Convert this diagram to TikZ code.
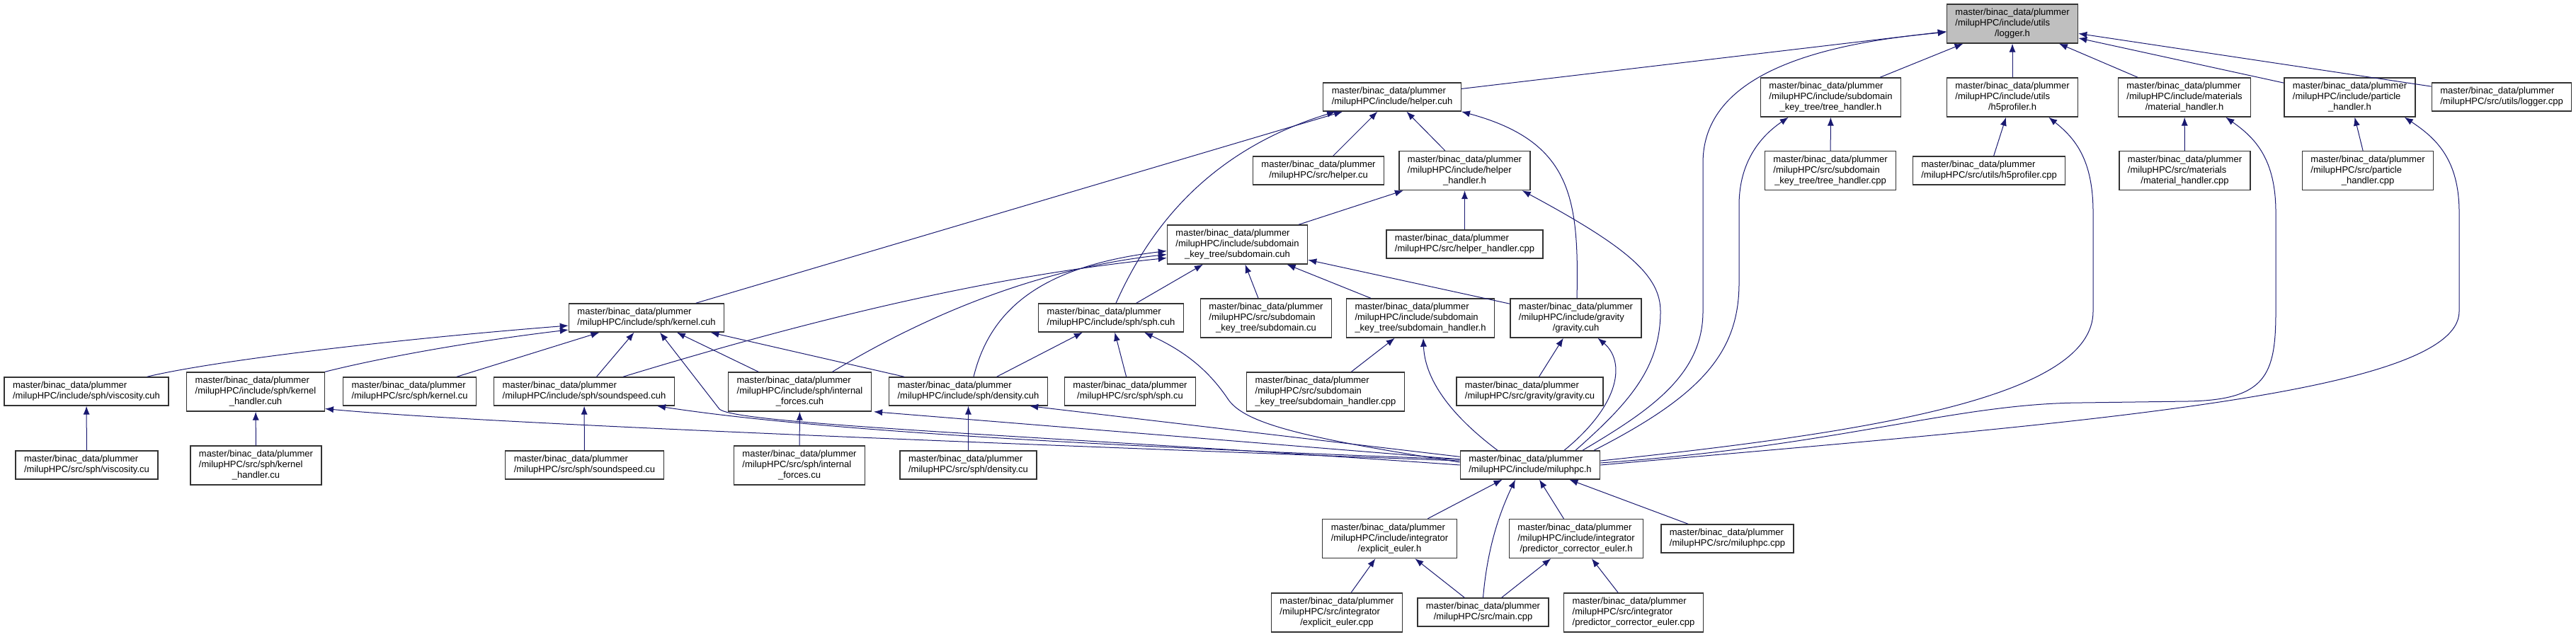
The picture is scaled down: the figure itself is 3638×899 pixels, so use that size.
\documentclass[tikz,border=0pt]{standalone}
\usepackage{fontspec}
\setmainfont{Liberation Sans}
\usetikzlibrary{arrows.meta,calc}
\definecolor{incedge}{RGB}{25,25,112}
\definecolor{rootgray}{RGB}{191,191,191}
\newcommand{\pathtwo}[1]{\begin{tabular}{@{}l@{}}master/binac\_data/plummer\\\multicolumn{1}{@{}c@{}}{#1}\end{tabular}}
\newcommand{\paththree}[2]{\begin{tabular}{@{}l@{}}master/binac\_data/plummer\\#1\\\multicolumn{1}{@{}c@{}}{#2}\end{tabular}}

\begin{document}
\begin{tikzpicture}[x=0.5pt,y=-0.5pt,
 file/.style={draw=black!80,fill=white,line width=0.7pt,inner xsep=6pt,inner ysep=2.5pt,font=\fontsize{6.5}{7.5}\selectfont},
 root/.style={file,fill=rootgray},
 dep/.style={-{Latex[length=6pt,width=4.6pt]},color=incedge,line width=0.5pt}]
\useasboundingbox (0,0) rectangle (3638,899);
\node[root] (logger) at (2842,33.5) {\paththree{/milupHPC/include/utils}{/logger.h}};
\node[file] (helpercuh) at (1966,137) {\pathtwo{/milupHPC/include/helper.cuh}};
\node[file] (treeh) at (2585.5,137.5) {\paththree{/milupHPC/include/subdomain}{\_key\_tree/tree\_handler.h}};
\node[file] (h5h) at (2842,137.5) {\paththree{/milupHPC/include/utils}{/h5profiler.h}};
\node[file] (math) at (3085,137.5) {\paththree{/milupHPC/include/materials}{/material\_handler.h}};
\node[file] (parth) at (3318.5,137.5) {\paththree{/milupHPC/include/particle}{\_handler.h}};
\node[file] (loggercpp) at (3533,137) {\pathtwo{/milupHPC/src/utils/logger.cpp}};
\node[file] (helpercu) at (1862,241) {\pathtwo{/milupHPC/src/helper.cu}};
\node[file] (helperhh) at (2068.5,241) {\paththree{/milupHPC/include/helper}{\_handler.h}};
\node[file] (treecpp) at (2585,241) {\paththree{/milupHPC/src/subdomain}{\_key\_tree/tree\_handler.cpp}};
\node[file] (h5cpp) at (2809,241) {\pathtwo{/milupHPC/src/utils/h5profiler.cpp}};
\node[file] (matcpp) at (3085.5,241) {\paththree{/milupHPC/src/materials}{/material\_handler.cpp}};
\node[file] (partcpp) at (3344,241) {\paththree{/milupHPC/src/particle}{\_handler.cpp}};
\node[file] (subcuh) at (1747.5,345.5) {\paththree{/milupHPC/include/subdomain}{\_key\_tree/subdomain.cuh}};
\node[file] (helperhcpp) at (2068.5,345) {\pathtwo{/milupHPC/src/helper\_handler.cpp}};
\node[file] (kernelcuh) at (913,449) {\pathtwo{/milupHPC/include/sph/kernel.cuh}};
\node[file] (sphcuh) at (1569,449) {\pathtwo{/milupHPC/include/sph/sph.cuh}};
\node[file] (subcu) at (1788,449.5) {\paththree{/milupHPC/src/subdomain}{\_key\_tree/subdomain.cu}};
\node[file] (subhh) at (2006,449.5) {\paththree{/milupHPC/include/subdomain}{\_key\_tree/subdomain\_handler.h}};
\node[file] (gravcuh) at (2225.5,449.5) {\paththree{/milupHPC/include/gravity}{/gravity.cuh}};
\node[file] (visccuh) at (122,553) {\pathtwo{/milupHPC/include/sph/viscosity.cuh}};
\node[file] (kernhcuh) at (361,553.5) {\paththree{/milupHPC/include/sph/kernel}{\_handler.cuh}};
\node[file] (kernelcu) at (578.5,553) {\pathtwo{/milupHPC/src/sph/kernel.cu}};
\node[file] (soundcuh) at (825,553) {\pathtwo{/milupHPC/include/sph/soundspeed.cuh}};
\node[file] (intfcuh) at (1129.5,553.5) {\paththree{/milupHPC/include/sph/internal}{\_forces.cuh}};
\node[file] (denscuh) at (1367.5,553) {\pathtwo{/milupHPC/include/sph/density.cuh}};
\node[file] (sphcu) at (1596,553) {\pathtwo{/milupHPC/src/sph/sph.cu}};
\node[file] (subhcpp) at (1872,553.5) {\paththree{/milupHPC/src/subdomain}{\_key\_tree/subdomain\_handler.cpp}};
\node[file] (gravcu) at (2160.5,553) {\pathtwo{/milupHPC/src/gravity/gravity.cu}};
\node[file] (visccu) at (122.5,657) {\pathtwo{/milupHPC/src/sph/viscosity.cu}};
\node[file] (kernhcu) at (361.5,657.5) {\paththree{/milupHPC/src/sph/kernel}{\_handler.cu}};
\node[file] (soundcu) at (825.5,657) {\pathtwo{/milupHPC/src/sph/soundspeed.cu}};
\node[file] (intfcu) at (1129,657.5) {\paththree{/milupHPC/src/sph/internal}{\_forces.cu}};
\node[file] (denscu) at (1367.5,657) {\pathtwo{/milupHPC/src/sph/density.cu}};
\node[file] (miluphpch) at (2161,657) {\pathtwo{/milupHPC/include/miluphpc.h}};
\node[file] (expeulh) at (1962.5,761) {\paththree{/milupHPC/include/integrator}{/explicit\_euler.h}};
\node[file] (pceulh) at (2226,761) {\paththree{/milupHPC/include/integrator}{/predictor\_corrector\_euler.h}};
\node[file] (miluphpccpp) at (2439.5,761) {\pathtwo{/milupHPC/src/miluphpc.cpp}};
\node[file] (expeulcpp) at (1888,865.5) {\paththree{/milupHPC/src/integrator}{/explicit\_euler.cpp}};
\node[file] (maincpp) at (2094.5,865) {\pathtwo{/milupHPC/src/main.cpp}};
\node[file] (pceulcpp) at (2307,865.5) {\paththree{/milupHPC/src/integrator}{/predictor\_corrector\_euler.cpp}};
\draw[dep] (helpercuh) -- (logger);
\draw[dep] (treeh) -- (logger);
\draw[dep] (h5h) -- (logger);
\draw[dep] (math) -- (logger);
\draw[dep] (parth) -- (logger);
\draw[dep] (loggercpp) -- (logger);
\draw[dep] ($(miluphpch.north)+(74,0)$) .. controls (2330,580) and (2405,530) .. (2405,440) -- (2405,230) .. controls (2405,120) and (2530,65) .. ($(logger.west)+(0,12)$);
\draw[dep] (kernelcuh) -- (helpercuh);
\draw[dep] ($(sphcuh.north)+(7,0)$) .. controls (1620,330) and (1700,215) .. ($(helpercuh.south west)+(18,0)$);
\draw[dep] (helpercu) -- (helpercuh);
\draw[dep] (helperhh) -- (helpercuh);
\draw[dep] ($(gravcuh.north)+(1.5,0)$) .. controls (2230,280) and (2220,200) .. (helpercuh.south east);
\draw[dep] (treecpp) -- (treeh);
\draw[dep] ($(miluphpch.north)+(90,0)$) .. controls (2400,560) and (2456,500) .. (2456,400) -- (2456,290) .. controls (2456,225) and (2490,190) .. ($(treeh.south west)+(40,0)$);
\draw[dep] (h5cpp) -- (h5h);
\draw[dep] ($(miluphpch.east)+(0,-6)$) .. controls (2650,610) and (2956,560) .. (2956,440) -- (2956,300) .. controls (2956,225) and (2930,195) .. ($(h5h.south east)+(-42,0)$);
\draw[dep] (matcpp) -- (math);
\draw[dep] ($(miluphpch.east)+(0,-3)$) .. controls (2600,630) and (2760,570) .. (2940,569) -- (3090,567) .. controls (3200,565) and (3214,530) .. (3214,440) -- (3214,300) .. controls (3214,225) and (3185,195) .. ($(math.south east)+(-36,0)$);
\draw[dep] (partcpp) -- (parth);
\draw[dep] (miluphpch.east) .. controls (2900,600) and (3473,560) .. (3473,440) -- (3473,300) .. controls (3473,225) and (3440,195) .. ($(parth.south east)+(-16,0)$);
\draw[dep] (subcuh) -- (helperhh);
\draw[dep] (helperhcpp) -- (helperhh);
\draw[dep] ($(miluphpch.north)+(64,0)$) .. controls (2300,570) and (2345,520) .. (2345,440) .. controls (2345,390) and (2300,350) .. ($(helperhh.south east)+(-12,0)$);
\draw[dep] ($(soundcuh.north east)+(-73,0)$) .. controls (1150,450) and (1400,390) .. ($(subcuh.west)+(0,19)$);
\draw[dep] ($(intfcuh.north)+(46,0)$) .. controls (1300,450) and (1460,380) .. ($(subcuh.west)+(0,14)$);
\draw[dep] ($(denscuh.north)+(7.5,0)$) .. controls (1400,430) and (1480,375) .. ($(subcuh.west)+(0,9)$);
\draw[dep] (sphcuh) -- (subcuh);
\draw[dep] (subcu) -- (subcuh);
\draw[dep] (subhh) -- (subcuh);
\draw[dep] (gravcuh) -- (subcuh);
\draw[dep] ($(visccuh.north east)+(-31,0)$) .. controls (300,510) and (550,480) .. ($(kernelcuh.west)+(0,11)$);
\draw[dep] (kernhcuh.north east) .. controls (560,500) and (700,478) .. ($(kernelcuh.west)+(0,17)$);
\draw[dep] (kernelcu) -- (kernelcuh);
\draw[dep] (soundcuh) -- (kernelcuh);
\draw[dep] (intfcuh) -- (kernelcuh);
\draw[dep] (denscuh) -- (kernelcuh);
\draw[dep] (miluphpch.west) .. controls (1500,617) and (1040,600) .. (1016,578) -- ($(kernelcuh.south)+(19,0)$);
\draw[dep] (denscuh) -- (sphcuh);
\draw[dep] (sphcu) -- (sphcuh);
\draw[dep] ($(miluphpch.west)+(0,-4)$) .. controls (1850,620) and (1760,600) .. (1735,565) .. controls (1705,520) and (1670,495) .. ($(sphcuh.south)+(47,0)$);
\draw[dep] (subhcpp) -- (subhh);
\draw[dep] ($(miluphpch.north)+(-46,0)$) .. controls (2040,580) and (2012,530) .. ($(subhh.south)+(4,0)$);
\draw[dep] (gravcu) -- (gravcuh);
\draw[dep] ($(miluphpch.north)+(48,0)$) .. controls (2290,570) and (2295,510) .. ($(gravcuh.south)+(31,0)$);
\draw[dep] (visccu) -- (visccuh);
\draw[dep] (kernhcu) -- (kernhcuh);
\draw[dep] ($(miluphpch.west)+(0,-6)$) .. controls (1500,630) and (700,600) .. ($(kernhcuh.east)+(0,24)$);
\draw[dep] (soundcu) -- (soundcuh);
\draw[dep] ($(miluphpch.west)+(0,-8)$) .. controls (1400,625) and (1100,600) .. ($(soundcuh.south east)+(-25,0)$);
\draw[dep] (intfcu) -- (intfcuh);
\draw[dep] (miluphpch) -- ($(intfcuh.south east)+(3,0)$);
\draw[dep] (denscu) -- (denscuh);
\draw[dep] (miluphpch) -- ($(denscuh.south east)+(-26,0)$);
\draw[dep] (expeulh) -- (miluphpch);
\draw[dep] (maincpp.north) .. controls (2100,780) and (2115,730) .. ($(miluphpch.south)+(-21,0)$);
\draw[dep] (pceulh) -- (miluphpch);
\draw[dep] (miluphpccpp) -- (miluphpch);
\draw[dep] (expeulcpp) -- (expeulh);
\draw[dep] (maincpp) -- (expeulh);
\draw[dep] (maincpp) -- (pceulh);
\draw[dep] (pceulcpp) -- (pceulh);
\end{tikzpicture}
\end{document}
